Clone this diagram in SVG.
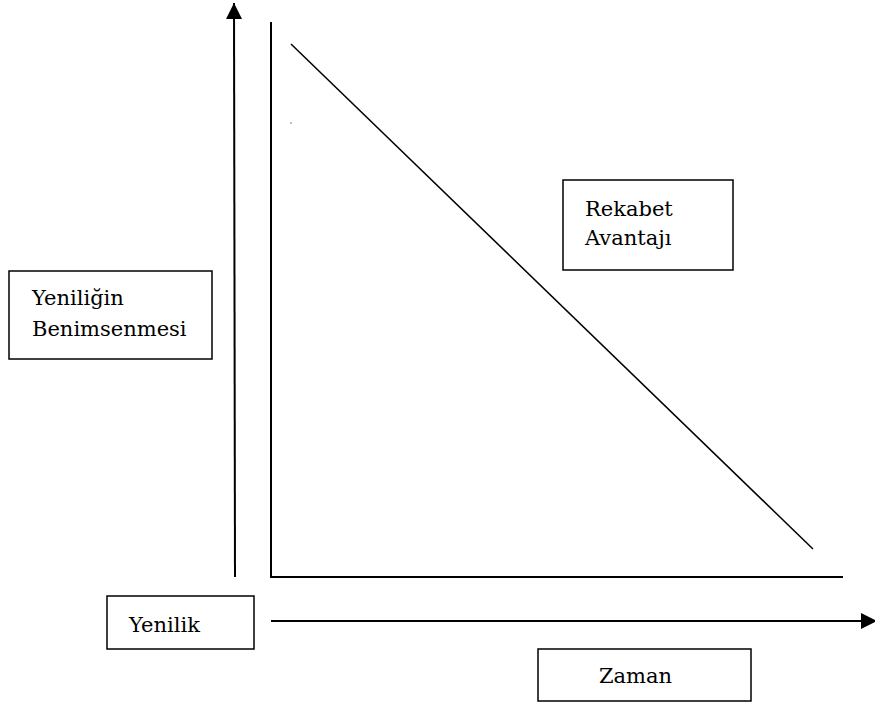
<svg xmlns="http://www.w3.org/2000/svg" width="875" height="704" viewBox="0 0 875 704">
<style>
.box{fill:#fff;stroke:#000;stroke-width:1.5}
.ln{stroke:#000;stroke-width:2;fill:none}
.t{font-family:'DejaVu Serif','Liberation Serif',serif;font-size:21px;fill:#000}
</style>
<defs>
<marker id="ah" viewBox="0 0 10 10" refX="10" refY="5" markerUnits="userSpaceOnUse" markerWidth="16" markerHeight="16" orient="auto">
<path d="M0,0 L10,5 L0,10 Z" fill="#000"/>
</marker>
</defs>
<rect width="875" height="704" fill="#fff"/>
<g id="connectors">
<line class="ln" x1="235" y1="577" x2="234" y2="3" marker-end="url(#ah)"/>
<line class="ln" x1="271" y1="22" x2="271" y2="577"/>
<line class="ln" x1="270" y1="577" x2="843" y2="577"/>
<line class="ln" x1="291" y1="44" x2="813" y2="549" style="stroke-width:1.5"/>
<line class="ln" x1="271" y1="621" x2="877" y2="621" marker-end="url(#ah)"/>
<rect x="290.5" y="122.5" width="1" height="1" fill="#000"/>
</g>
<g id="node-yeniligin">
<rect class="box" x="9" y="271" width="203" height="88"/>
<text class="t" x="32" y="305">Yeniliğin</text>
<text class="t" x="32" y="336">Benimsenmesi</text>
</g>
<g id="node-rekabet">
<rect class="box" x="563" y="180" width="170" height="90"/>
<text class="t" x="585" y="216">Rekabet</text>
<text class="t" x="585" y="245">Avantajı</text>
</g>
<g id="node-yenilik">
<rect class="box" x="107" y="596" width="147" height="53"/>
<text class="t" x="129" y="632">Yenilik</text>
</g>
<g id="node-zaman">
<rect class="box" x="538" y="649" width="213" height="52"/>
<text class="t" x="599" y="683">Zaman</text>
</g>
</svg>
